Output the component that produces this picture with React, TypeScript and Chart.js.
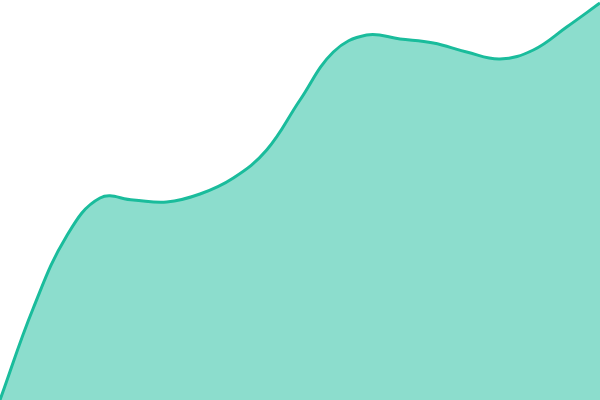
import React, { useEffect, useRef } from 'react';
import { Chart, registerables } from 'chart.js';

Chart.register(...registerables);

// x positions (evenly spaced samples) and the curve's values
const labels = [
  '0', '1', '2', '3', '4', '5', '6', '7', '8', '9',
  '10', '11', '12', '13', '14', '15', '16', '17', '18',
];
const values = [
  0, 23, 41, 50.5, 50, 49.5, 51.5, 55.5, 62.5, 75,
  87, 91.25, 90.25, 89.25, 87, 85.25, 87.5, 93.25, 99.25,
];
const yMin = 0;
const yMax = 100;

const lineColor = '#1abc9c';
const fillColor = 'rgba(26, 188, 156, 0.5)';

const App: React.FC = () => {
  const canvasRef = useRef<HTMLCanvasElement>(null);
  const chartRef = useRef<Chart | null>(null);

  useEffect(() => {
    document.body.style.margin = '0';
    if (!canvasRef.current) return;
    if (chartRef.current) chartRef.current.destroy();

    const ctx = canvasRef.current.getContext('2d');
    if (!ctx) return;

    chartRef.current = new Chart(ctx, {
      type: 'line',
      data: {
        labels,
        datasets: [
          {
            data: values,
            borderColor: lineColor,
            backgroundColor: fillColor,
            borderWidth: 3,
            tension: 0.4,
            fill: 'origin',
            pointRadius: 0,
          },
        ],
      },
      options: {
        responsive: false,
        animation: false,
        layout: { padding: 0 },
        plugins: {
          legend: { display: false },
          tooltip: { enabled: false },
        },
        scales: {
          x: { display: false, offset: false },
          y: { display: false, min: yMin, max: yMax },
        },
      },
    });

    return () => {
      if (chartRef.current) {
        chartRef.current.destroy();
        chartRef.current = null;
      }
    };
  }, []);

  return (
    <div style={{ width: 600, height: 400 }}>
      <canvas ref={canvasRef} width={600} height={400}></canvas>
    </div>
  );
};

export default App;
